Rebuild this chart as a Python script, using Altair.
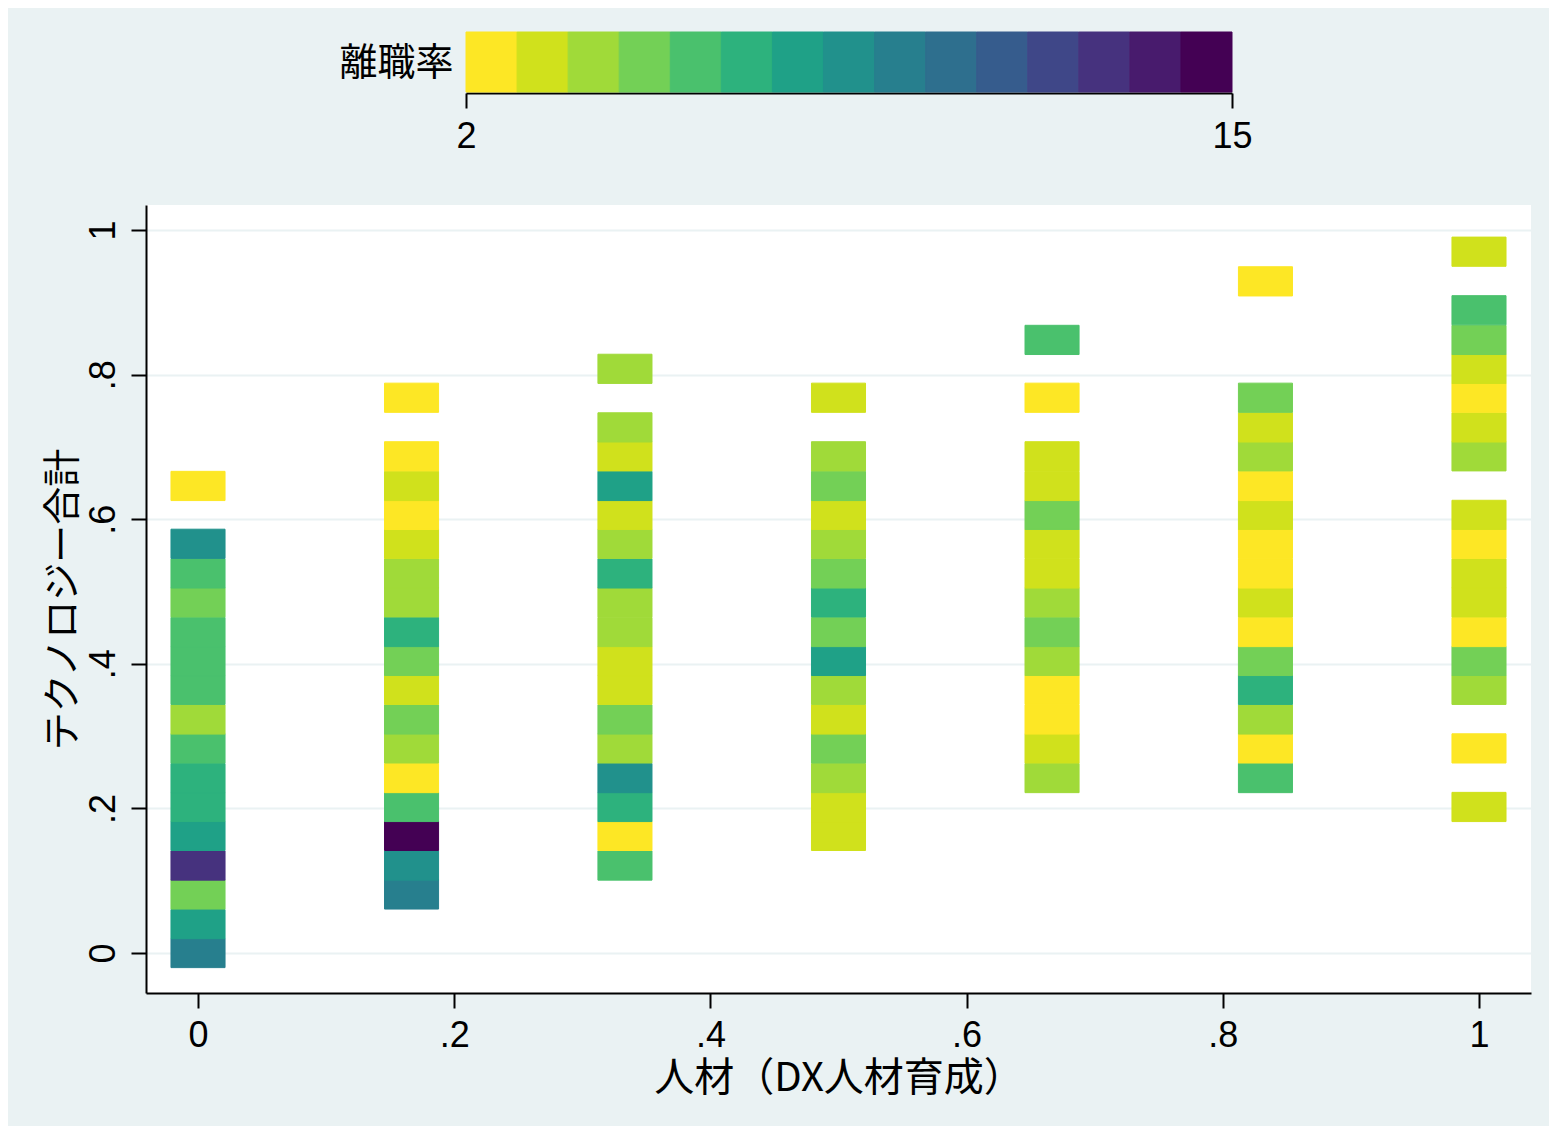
import altair as alt
import pandas as pd
import numpy as np

# ---- data ----
# x: 人材（DX人材育成） column positions
x_levels = [0.0, 0.1667, 0.3333, 0.5, 0.6667, 0.8333, 1.0]

# y: テクノロジー合計 cell centres, rate: 離職率 per cell, one pair of lists per column
col0_y = [0.000, 0.040, 0.081, 0.121, 0.162, 0.202, 0.242, 0.283, 0.323, 0.364, 0.404, 0.444, 0.485, 0.525, 0.566, 0.646]
col0_rate = [9.4, 7.6, 5.0, 12.8, 7.6, 6.8, 6.8, 5.9, 4.2, 5.9, 5.9, 5.9, 5.0, 5.9, 8.5, 2.4]

col1_y = [0.081, 0.121, 0.162, 0.202, 0.242, 0.283, 0.323, 0.364, 0.404, 0.444, 0.485, 0.525, 0.566, 0.606, 0.646, 0.687, 0.768]
col1_rate = [9.4, 8.5, 14.6, 5.9, 2.4, 4.2, 5.0, 3.3, 5.0, 6.8, 4.2, 4.2, 3.3, 2.4, 3.3, 2.4, 2.4]

col2_y = [0.121, 0.162, 0.202, 0.242, 0.283, 0.323, 0.364, 0.404, 0.444, 0.485, 0.525, 0.566, 0.606, 0.646, 0.687, 0.727, 0.808]
col2_rate = [5.9, 2.4, 6.8, 8.5, 4.2, 5.0, 3.3, 3.3, 4.2, 4.2, 6.8, 4.2, 3.3, 7.6, 3.3, 4.2, 4.2]

col3_y = [0.162, 0.202, 0.242, 0.283, 0.323, 0.364, 0.404, 0.444, 0.485, 0.525, 0.566, 0.606, 0.646, 0.687, 0.768]
col3_rate = [3.3, 3.3, 4.2, 5.0, 3.3, 4.2, 7.6, 5.0, 6.8, 5.0, 4.2, 3.3, 5.0, 4.2, 3.3]

col4_y = [0.242, 0.283, 0.323, 0.364, 0.404, 0.444, 0.485, 0.525, 0.566, 0.606, 0.646, 0.687, 0.768, 0.848]
col4_rate = [4.2, 3.3, 2.4, 2.4, 4.2, 5.0, 4.2, 3.3, 3.3, 5.0, 3.3, 3.3, 2.4, 5.9]

col5_y = [0.242, 0.283, 0.323, 0.364, 0.404, 0.444, 0.485, 0.525, 0.566, 0.606, 0.646, 0.687, 0.727, 0.768, 0.929]
col5_rate = [5.9, 2.4, 4.2, 6.8, 5.0, 2.4, 3.3, 2.4, 2.4, 3.3, 2.4, 4.2, 3.3, 5.0, 2.4]

col6_y = [0.202, 0.283, 0.364, 0.404, 0.444, 0.485, 0.525, 0.566, 0.606, 0.687, 0.727, 0.768, 0.808, 0.848, 0.889, 0.970]
col6_rate = [3.3, 2.4, 4.2, 5.0, 2.4, 3.3, 3.3, 2.4, 3.3, 4.2, 3.3, 2.4, 3.3, 5.0, 5.9, 3.3]

tick_values = [0, 0.2, 0.4, 0.6, 0.8, 1]
legend_ticks = [2, 15]
rate_min, rate_max = 2, 15

# viridis, 15 levels, low = yellow
palette = ["#fde725", "#d0e11c", "#a0da39", "#73d056", "#4ac16d", "#2db27d", "#1fa187",
           "#21918c", "#277f8e", "#2e6f8e", "#365c8d", "#3f4788", "#46327e", "#481b6d", "#440154"]

# ---- build tables ----
cols_y = [col0_y, col1_y, col2_y, col3_y, col4_y, col5_y, col6_y]
cols_r = [col0_rate, col1_rate, col2_rate, col3_rate, col4_rate, col5_rate, col6_rate]
rows = []
for xv, ys, rs in zip(x_levels, cols_y, cols_r):
    for yv, rv in zip(ys, rs):
        rows.append({"x": xv, "y": yv, "rate": rv})
df = pd.DataFrame(rows)

edges = np.linspace(rate_min, rate_max, len(palette) + 1)
leg_df = pd.DataFrame({"lo": edges[:-1], "hi": edges[1:], "mid": (edges[:-1] + edges[1:]) / 2})

HALF_W = 0.0211
HALF_H = 0.0202

BG = "#eaf2f3"
NUM_FONT = "Liberation Sans"
CJK_FONT = "Noto Sans CJK JP"

color_scale = alt.Scale(type="quantize", domain=[rate_min, rate_max], range=palette, nice=False)

label_expr = ("datum.value == 0 ? '0' : datum.value == 1 ? '1' : "
              "replace(format(datum.value, '.1f'), '0.', '.')")

x_axis = alt.Axis(values=tick_values, labelExpr=label_expr, grid=False, labelFlush=False,
                  tickSize=15, tickWidth=2, tickColor="black",
                  domainColor="black", domainWidth=2,
                  labelFont=NUM_FONT, labelFontSize=36, labelColor="black",
                  labelBaseline="alphabetic", labelPadding=38,
                  title="人材（DX人材育成）", titleFont=CJK_FONT, titleFontSize=40,
                  titleFontWeight="normal", titleColor="black",
                  titleBaseline="alphabetic", titleY=97)

y_axis = alt.Axis(values=tick_values, labelExpr=label_expr, grid=True, labelFlush=False,
                  gridColor=BG, gridWidth=2, gridOpacity=1,
                  tickSize=15, tickWidth=2, tickColor="black",
                  domainColor="black", domainWidth=2,
                  labelFont=NUM_FONT, labelFontSize=36, labelColor="black",
                  labelAngle=-90, labelAlign="center", labelBaseline="alphabetic",
                  labelPadding=17,
                  title="テクノロジー合計", titleFont=CJK_FONT, titleFontSize=38,
                  titleFontWeight="normal", titleColor="black",
                  titleAngle=-90, titleAlign="center", titleBaseline="alphabetic",
                  titleX=-72, titleY=394)

main = alt.Chart(df).transform_calculate(
    x_lo=f"datum.x - {HALF_W}", x_hi=f"datum.x + {HALF_W}",
    y_lo=f"datum.y - {HALF_H}", y_hi=f"datum.y + {HALF_H}",
).mark_rect(strokeWidth=1).encode(
    x=alt.X("x_lo:Q", scale=alt.Scale(domain=[-0.0406, 1.0406], nice=False, zero=False), axis=x_axis),
    x2="x_hi:Q",
    y=alt.Y("y_lo:Q", scale=alt.Scale(domain=[-0.0553, 1.0346], nice=False, zero=False), axis=y_axis),
    y2="y_hi:Q",
    color=alt.Color("rate:Q", scale=color_scale, legend=None),
    stroke=alt.Stroke("rate:Q", scale=color_scale, legend=None),
).properties(width=1385, height=788, view=alt.ViewBackground(fill="white", stroke=None))

leg_axis = alt.Axis(values=legend_ticks, format="d", grid=False, offset=1, labelFlush=False,
                    tickSize=15, tickWidth=2, tickColor="black",
                    domainColor="black", domainWidth=2,
                    labelFont=NUM_FONT, labelFontSize=36, labelColor="black",
                    labelBaseline="alphabetic", labelPadding=39,
                    title="離職率", titleFont=CJK_FONT, titleFontSize=38,
                    titleFontWeight="normal", titleColor="black", titleAngle=0,
                    titleAlign="right", titleBaseline="alphabetic",
                    titleX=307, titleY=-19)

legend = alt.Chart(leg_df).mark_rect(strokeWidth=1).encode(
    x=alt.X("lo:Q", scale=alt.Scale(domain=[rate_min, rate_max], range=[320, 1086], nice=False, zero=False),
            axis=leg_axis),
    x2="hi:Q",
    color=alt.Color("mid:Q", scale=color_scale, legend=None),
    stroke=alt.Stroke("mid:Q", scale=color_scale, legend=None),
).properties(width=1385, height=60, view=alt.ViewBackground(stroke=None))

chart = alt.vconcat(legend, main, spacing=51).resolve_scale(
    x="independent", y="independent"
).properties(
    background=BG,
    padding={"left": 36, "top": 23, "right": 18, "bottom": 28},
)

chart.save("out.html", embed_options={"renderer": "svg", "actions": False})
